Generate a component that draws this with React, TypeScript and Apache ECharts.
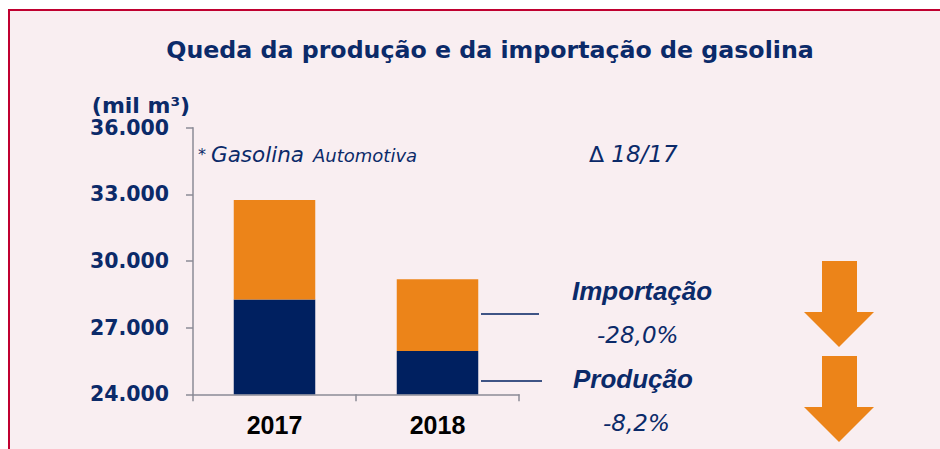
import React, { useEffect, useRef } from "react";
import * as echarts from "echarts";

const categories = ["2017", "2018"];
const producao = [28270, 25950];
const importacao = [4480, 3230];
const yMin = 24000;
const yMax = 36000;
const yStep = 3000;
const deltaLabels = ["Importação", "-28,0%", "Produção", "-8,2%"];

const NAVY = "#002060";
const TEXT_NAVY = "#0b2a69";
const ORANGE = "#EC8419";
const AXIS = "#8b8b96";
const PINK = "#f9eef1";
const RED = "#c00030";

function fmt(v: number): string {
  return String(v).replace(/\B(?=(\d{3})+(?!\d))/g, ".");
}

function arrow(top: number) {
  const sl = 822, sr = 857, hl = 804, hr = 874, tipX = 839;
  const hy = top + 51, tip = top + 86;
  return {
    type: "polygon",
    shape: {
      points: [
        [sl, top], [sr, top], [sr, hy], [hr, hy], [tipX, tip], [hl, hy], [sl, hy],
      ],
    },
    style: { fill: ORANGE },
    z: 10,
  };
}

export default function App() {
  const ref = useRef<HTMLDivElement>(null);
  useEffect(() => {
    document.body.style.margin = "0";
    if (!ref.current) return;
    const chart = echarts.init(ref.current, null, { renderer: "svg" });
    const option: any = {
      animation: false,
      backgroundColor: "#ffffff",
      grid: { left: 193, right: 421, top: 127.7, bottom: 54.7, containLabel: false },
      xAxis: {
        type: "category",
        data: categories,
        axisLine: { lineStyle: { color: AXIS, width: 1.5 } },
        axisTick: { show: true, length: 7, lineStyle: { color: AXIS, width: 1.5 } },
        axisLabel: {
          color: "#000000",
          fontFamily: "Liberation Sans",
          fontWeight: "bold",
          fontSize: 25,
          margin: 18,
        },
      },
      yAxis: {
        type: "value",
        min: yMin,
        max: yMax,
        interval: yStep,
        splitLine: { show: false },
        axisLine: { show: true, lineStyle: { color: AXIS, width: 1.5 } },
        axisTick: { show: true, length: 7, lineStyle: { color: AXIS, width: 1.5 } },
        axisLabel: {
          color: TEXT_NAVY,
          fontFamily: "DejaVu Sans",
          fontWeight: "bold",
          fontSize: 20.5,
          margin: 24,
          formatter: (v: number) => fmt(v),
        },
      },
      series: [
        {
          name: "Produção",
          type: "bar",
          stack: "total",
          barWidth: "50%",
          data: producao,
          itemStyle: { color: NAVY },
        },
        {
          name: "Importação",
          type: "bar",
          stack: "total",
          barWidth: "50%",
          data: importacao,
          itemStyle: { color: ORANGE },
        },
      ],
      graphic: [
        {
          type: "rect",
          shape: { x: 9, y: 10, width: 960, height: 460 },
          style: { fill: PINK, stroke: RED, lineWidth: 2 },
          z: -10,
          silent: true,
        },
        {
          type: "text",
          x: 490,
          y: 50,
          style: {
            text: "Queda da produção e da importação de gasolina",
            fill: TEXT_NAVY,
            font: "bold 23.7px 'DejaVu Sans'",
            textAlign: "center",
            textVerticalAlign: "middle",
          },
        },
        {
          type: "text",
          x: 141,
          y: 105,
          style: {
            text: "(mil m³)",
            fill: TEXT_NAVY,
            font: "bold 22px 'DejaVu Sans'",
            textAlign: "center",
            textVerticalAlign: "middle",
          },
        },
        {
          type: "text",
          x: 198,
          y: 154,
          style: {
            text: "*",
            fill: TEXT_NAVY,
            font: "16px 'DejaVu Sans'",
            textAlign: "left",
            textVerticalAlign: "middle",
          },
        },
        {
          type: "text",
          x: 211,
          y: 154,
          style: {
            text: "Gasolina",
            fill: TEXT_NAVY,
            font: "italic 21.5px 'DejaVu Sans'",
            textAlign: "left",
            textVerticalAlign: "middle",
          },
        },
        {
          type: "text",
          x: 313,
          y: 155.5,
          style: {
            text: "Automotiva",
            fill: TEXT_NAVY,
            font: "italic 18px 'DejaVu Sans'",
            textAlign: "left",
            textVerticalAlign: "middle",
          },
        },
        {
          type: "text",
          x: 589,
          y: 154,
          style: {
            text: "{d|Δ} 18/17",
            fill: TEXT_NAVY,
            font: "italic 23px 'DejaVu Sans'",
            textAlign: "left",
            textVerticalAlign: "middle",
            rich: {
              d: { fill: TEXT_NAVY, font: "22px 'DejaVu Sans'" },
            },
          },
        },
        {
          type: "text",
          x: 572,
          y: 291,
          style: {
            text: deltaLabels[0],
            fill: TEXT_NAVY,
            font: "italic bold 26px 'Liberation Sans'",
            textAlign: "left",
            textVerticalAlign: "middle",
          },
        },
        {
          type: "text",
          x: 597,
          y: 335,
          style: {
            text: deltaLabels[1],
            fill: TEXT_NAVY,
            font: "italic 23px 'DejaVu Sans'",
            textAlign: "left",
            textVerticalAlign: "middle",
          },
        },
        {
          type: "text",
          x: 573,
          y: 379,
          style: {
            text: deltaLabels[2],
            fill: TEXT_NAVY,
            font: "italic bold 26px 'Liberation Sans'",
            textAlign: "left",
            textVerticalAlign: "middle",
          },
        },
        {
          type: "text",
          x: 603,
          y: 423,
          style: {
            text: deltaLabels[3],
            fill: TEXT_NAVY,
            font: "italic 23px 'DejaVu Sans'",
            textAlign: "left",
            textVerticalAlign: "middle",
          },
        },
        {
          type: "line",
          shape: { x1: 481, y1: 314, x2: 539, y2: 314 },
          style: { stroke: NAVY, lineWidth: 1.5 },
        },
        {
          type: "line",
          shape: { x1: 481, y1: 381, x2: 542, y2: 381 },
          style: { stroke: NAVY, lineWidth: 1.5 },
        },
        arrow(261),
        arrow(356),
      ],
    };
    chart.setOption(option);
    return () => chart.dispose();
  }, []);
  return <div ref={ref} style={{ width: 940, height: 449 }} />;
}
